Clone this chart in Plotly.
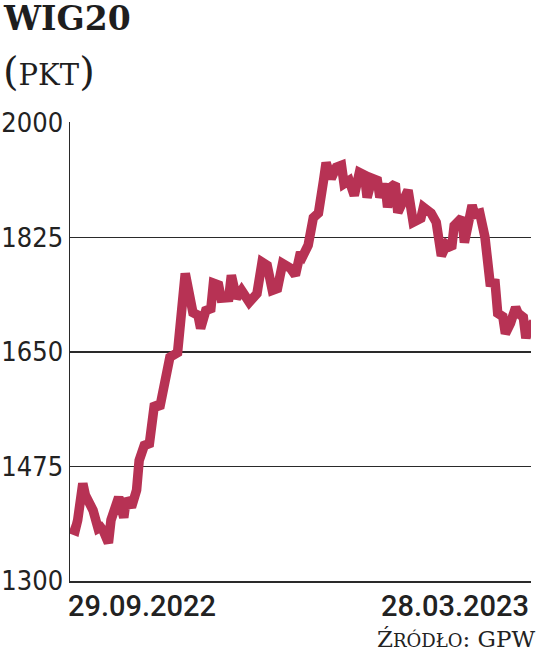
import pandas as pd
import plotly.graph_objects as go

# ---- data ----
start_date = "2022-09-29"
end_date = "2023-03-28"
day_offsets = [0,2,3,5,6,8,9,11,12,13,15,16,18,19,21,22,24,26,27,29,31,33,35,37,39,42,43,45,48,50,
               51,53,55,56,58,59,62,63,65,67,70,73,75,77,79,81,83,86,88,90,91,93,95,97,99,100,102,104,106,107,
               109,111,113,115,116,118,120,121,123,124,126,127,128,130,132,134,137,138,141,143,
               145,147,149,150,153,154,155,157,158,160,162,164,166,167,169,170,172,174,175,177,178,179,181]
wig20 = [1380,1377,1393,1449,1431,1419,1408,1380,1382,1377,1358,1393,1416,1428,1397,1426,1413,1439,1484,1507,
         1510,1571,1564,1596,1642,1649,1703,1770,1710,1706,1686,1713,1716,1755,1752,1732,1733,1767,1732,1744,
         1726,1739,1787,1782,1744,1747,1785,1778,1767,1802,1797,1813,1855,1862,1912,1939,1915,1932,1935,1907,
         1912,1889,1924,1920,1886,1915,1912,1886,1907,1871,1904,1907,1863,1877,1897,1848,1854,1871,1862,1848,
         1797,1814,1808,1843,1855,1817,1836,1874,1860,1862,1826,1756,1755,1709,1704,1678,1694,1718,1709,1703,
         1671,1686,1695]
y_ticks = [1300, 1475, 1650, 1825, 2000]
x_labels = ["29.09.2022", "28.03.2023"]
title = "WIG20"
unit = "PKT"

dates = pd.Timestamp(start_date) + pd.to_timedelta(day_offsets, unit="D")

LINE = "#b73254"
DARK = "#2a2a2a"
NARROW = "DejaVu Sans Condensed, Liberation Sans Narrow, sans-serif"
SERIF = "DejaVu Serif, serif"

fig = go.Figure()
fig.add_trace(go.Scatter(x=dates, y=wig20, mode="lines",
                         line=dict(color=LINE, width=9.5, shape="linear"),
                         hoverinfo="skip"))

W, H = 536, 667
L, R, T, B = 70, 5, 122, 86
pw, ph = W - L - R, H - T - B

def px(x):
    return (x - L) / pw

def py(y):
    return (H - B - y) / ph

fig.update_layout(
    width=W, height=H,
    margin=dict(l=L, r=R, t=T, b=B, autoexpand=False),
    plot_bgcolor="white", paper_bgcolor="white",
    showlegend=False,
    xaxis=dict(type="date", range=[start_date, end_date], showgrid=False,
               showline=True, linecolor=DARK, linewidth=1.5, automargin=False,
               showticklabels=False, zeroline=False, ticks=""),
    yaxis=dict(range=[1300, 2001.2], tickvals=y_ticks, ticktext=[str(v) for v in y_ticks],
               showgrid=True, gridcolor=DARK, gridwidth=1.5, automargin=False,
               showline=True, linecolor=DARK, linewidth=1.5, zeroline=False,
               ticks="", ticklabelstandoff=0,
               tickfont=dict(family=NARROW, size=27, color="#222222")),
    annotations=[
        dict(text="<b>" + title + "</b>", xref="paper", yref="paper", x=px(1), y=py(18),
             xanchor="left", yanchor="middle", showarrow=False,
             font=dict(family=SERIF, size=33, color="#1e1e1e")),
        dict(text="<span style='font-size:40px'>(</span>" + unit + "<span style='font-size:40px'>)</span>",
             xref="paper", yref="paper", x=px(1), y=py(71),
             xanchor="left", yanchor="middle", showarrow=False,
             font=dict(family=SERIF, size=29, color="#1e1e1e")),
        dict(text=x_labels[0], xref="paper", yref="paper", x=px(66), y=py(606),
             xanchor="left", yanchor="middle", showarrow=False,
             font=dict(family="Roboto", size=29, color="#222222", weight=500)),
        dict(text=x_labels[1], xref="paper", yref="paper", x=px(531), y=py(606),
             xanchor="right", yanchor="middle", showarrow=False,
             font=dict(family="Roboto", size=29, color="#222222", weight=500)),
        dict(text="Ź<span style='font-size:18px'>RÓDŁO</span>: GPW", xref="paper", yref="paper",
             x=px(537), y=py(639), xanchor="right", yanchor="middle", showarrow=False,
             font=dict(family=SERIF, size=23, color="#222222")),
    ],
)

fig.write_html("out.html",
               config={"displayModeBar": False, "staticPlot": True},
               post_script="document.body.style.margin='0';document.body.style.overflow='hidden';")
